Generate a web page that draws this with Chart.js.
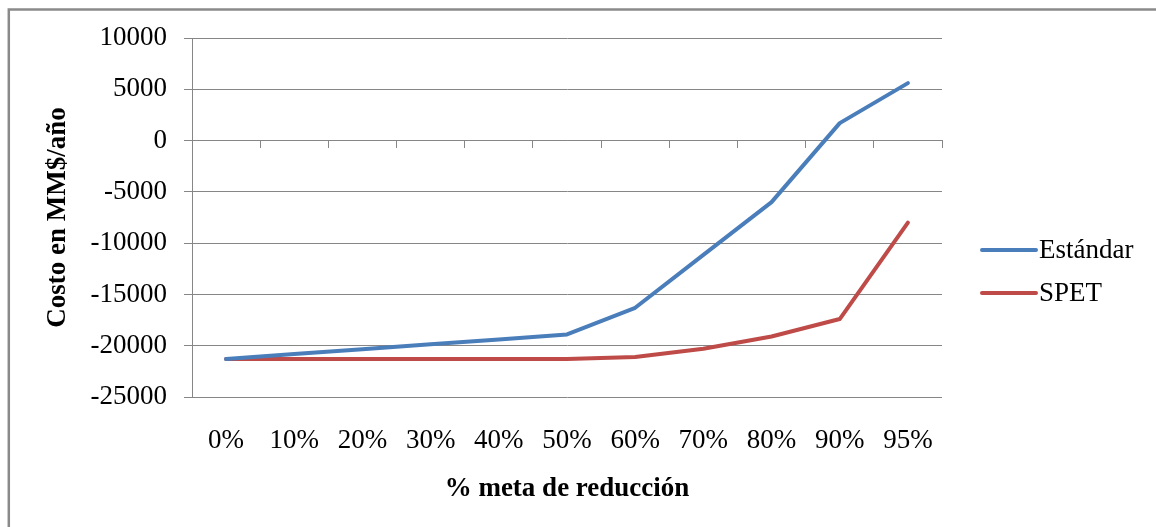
<!DOCTYPE html>
<html>
<head>
<meta charset="utf-8">
<title>Costo en MM$/año</title>
<script src="https://cdn.jsdelivr.net/npm/chart.js@4/dist/chart.umd.min.js"></script>
<style>
  html, body { margin: 0; padding: 0; background: #fff; }
  canvas { display: block; }
</style>
</head>
<body>
<canvas id="costChart" width="1156" height="527"></canvas>
<script>
// % meta de reducción
const categories = ['0%', '10%', '20%', '30%', '40%', '50%', '60%', '70%', '80%', '90%', '95%'];

// Costo en MM$/año
const estandar = [-21300, -20800, -20350, -19850, -19400, -18900, -16300, -11150, -6000, 1700, 5600];
const spet = [-21300, -21300, -21300, -21300, -21300, -21300, -21100, -20300, -19100, -17400, -8000];

const yTickValues = [-25000, -20000, -15000, -10000, -5000, 0, 5000, 10000];

const FONT = "'Liberation Serif', 'Times New Roman', serif";
const FONT_SIZE = 27;
const GRID = '#868686';

// grey frame around the chart
const framePlugin = {
    id: 'frame',
    beforeDraw(chart) {
        const ctx = chart.ctx;
        ctx.save();
        ctx.fillStyle = '#fff';
        ctx.fillRect(0, 0, chart.width, chart.height);
        ctx.strokeStyle = '#8a8a8a';
        ctx.lineWidth = 2.5;
        ctx.beginPath();
        ctx.moveTo(8.8, chart.height + 5);
        ctx.lineTo(8.8, 9.5);
        ctx.lineTo(chart.width + 5, 9.5);
        ctx.stroke();
        ctx.restore();
    }
};

// legend on the right, line sample followed by the series name
const sideLegend = {
    id: 'sideLegend',
    afterDraw(chart) {
        const ctx = chart.ctx;
        const x0 = 982, x1 = 1036, rowY = [250, 293];
        ctx.save();
        ctx.font = FONT_SIZE + 'px ' + FONT;
        ctx.textBaseline = 'middle';
        ctx.textAlign = 'left';
        chart.data.datasets.forEach((ds, i) => {
            const y = rowY[i];
            ctx.strokeStyle = ds.borderColor;
            ctx.lineWidth = 4;
            ctx.lineCap = 'round';
            ctx.beginPath();
            ctx.moveTo(x0, y);
            ctx.lineTo(x1, y);
            ctx.stroke();
            ctx.fillStyle = '#000';
            ctx.fillText(ds.label, x1 + 3, y + 1);
        });
        ctx.restore();
    }
};

new Chart(document.getElementById('costChart'), {
    type: 'line',
    data: {
        labels: categories,
        datasets: [{
            label: 'Estándar',
            data: estandar,
            borderColor: '#4A7EBB',
            borderWidth: 4,
            pointRadius: 0,
            tension: 0,
            borderCapStyle: 'round',
            borderJoinStyle: 'round',
        }, {
            label: 'SPET',
            data: spet,
            borderColor: '#BE4B48',
            borderWidth: 4,
            pointRadius: 0,
            tension: 0,
            borderCapStyle: 'round',
            borderJoinStyle: 'round',
        }],
    },
    options: {
        responsive: false,
        animation: false,
        devicePixelRatio: 1,
        layout: { padding: { top: 38, right: 214, left: 0, bottom: 0 } },
        plugins: {
            legend: { display: false },
            tooltip: { enabled: false },
        },
        scales: {
            // axis line crossing at zero, tick marks only
            x: {
                type: 'category',
                position: { y: 0 },
                offset: true,
                grid: {
                    offset: true,
                    drawOnChartArea: false,
                    color: GRID,
                    tickLength: 7,
                },
                border: { color: GRID, width: 1 },
                ticks: { display: false },
            },
            // category labels and title along the bottom
            x2: {
                type: 'category',
                position: 'bottom',
                offset: true,
                grid: { display: false },
                border: { display: false },
                ticks: {
                    color: '#000',
                    padding: 20,
                    maxRotation: 0,
                    autoSkip: false,
                    font: { family: FONT, size: FONT_SIZE },
                },
                title: {
                    display: true,
                    text: '% meta de reducción',
                    color: '#000',
                    padding: { top: 0, bottom: 22 },
                    font: { family: FONT, size: FONT_SIZE, weight: 'bold' },
                },
                afterFit(scale) { scale.height = 130; },
            },
            y: {
                min: yTickValues[0],
                max: yTickValues[yTickValues.length - 1],
                afterBuildTicks(scale) {
                    scale.ticks = yTickValues.map(v => ({ value: v }));
                },
                grid: { color: GRID, tickLength: 8 },
                border: { color: GRID, width: 1 },
                ticks: {
                    color: '#000',
                    padding: 17,
                    font: { family: FONT, size: FONT_SIZE },
                    callback: v => String(v),
                },
                title: {
                    display: true,
                    text: 'Costo en MM$/año',
                    color: '#000',
                    padding: { top: 42, bottom: 0 },
                    font: { family: FONT, size: FONT_SIZE, weight: 'bold' },
                },
                afterFit(scale) { scale.width = 192; },
            },
        },
    },
    plugins: [framePlugin, sideLegend],
});
</script>
</body>
</html>
